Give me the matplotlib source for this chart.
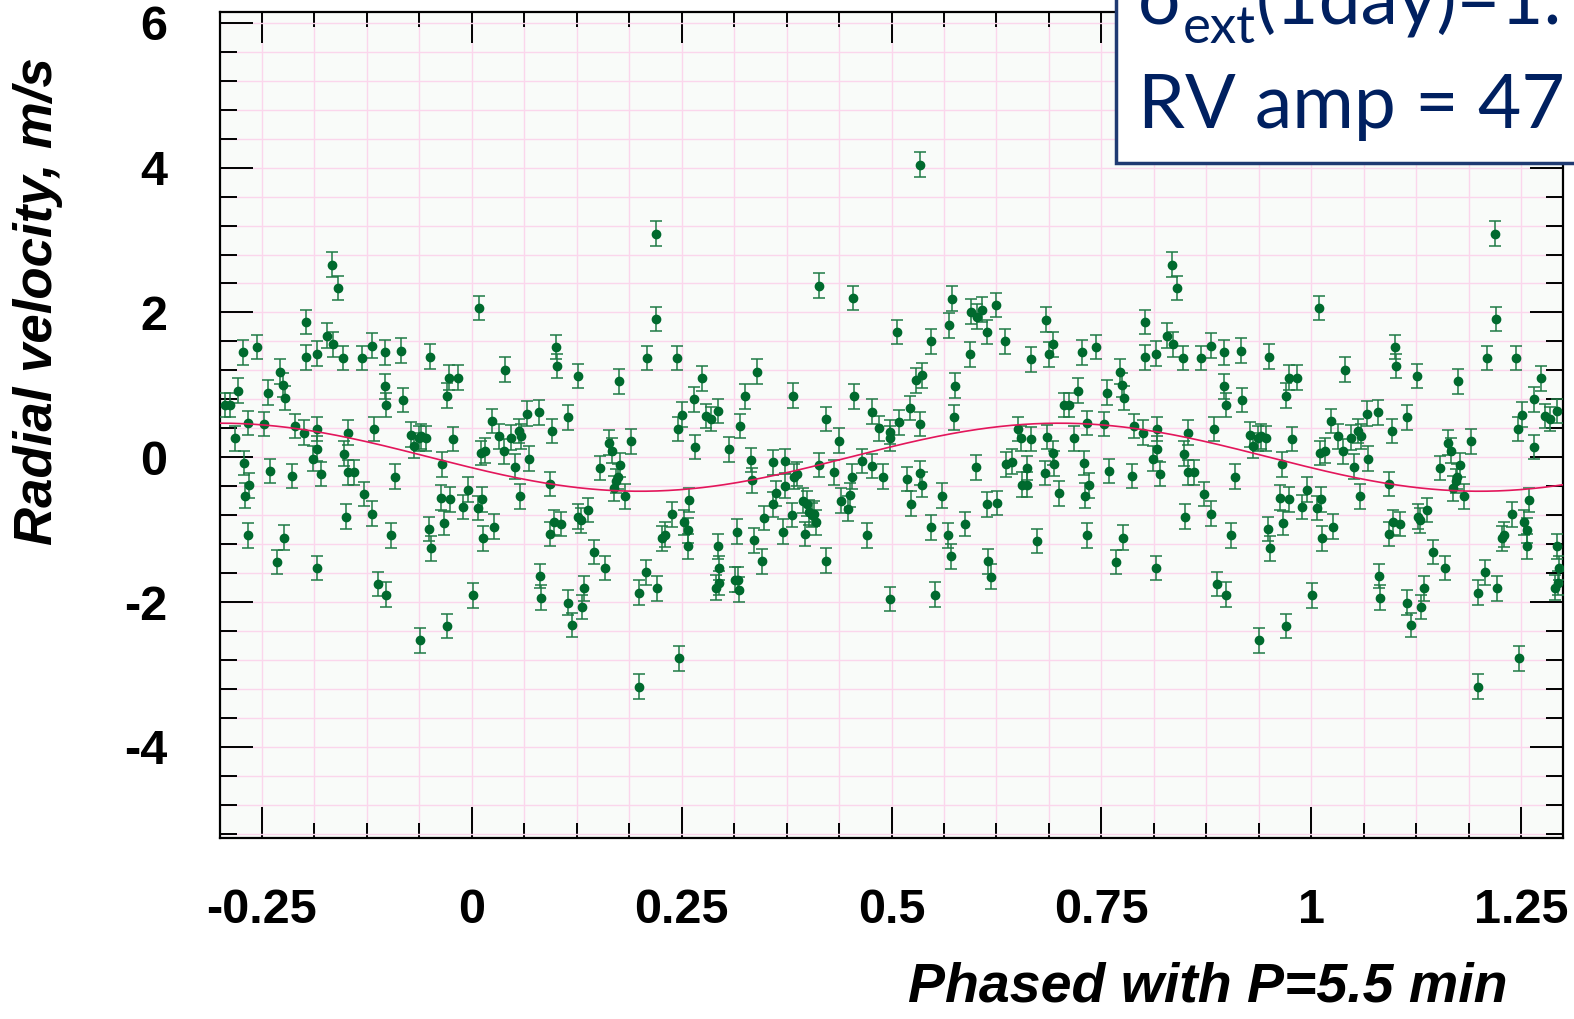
import numpy as np
import matplotlib
matplotlib.use("Agg")
from matplotlib import pyplot as plt
from matplotlib.ticker import MultipleLocator, FixedFormatter, FixedLocator
from matplotlib.patches import Rectangle

# phase (0..1) and radial velocity (m/s)
phase = [0.001, 0.009, 0.007, 0.012, 0.011, 0.016, 0.013, 0.024, 0.026, 0.032,
         0.038, 0.040, 0.047, 0.051, 0.056, 0.059, 0.058, 0.066, 0.068, 0.080,
         0.081, 0.082, 0.093, 0.093, 0.096, 0.098, 0.100, 0.101, 0.106, 0.114,
         0.114, 0.119, 0.126, 0.127, 0.130, 0.131, 0.134, 0.138, 0.145, 0.153,
         0.159, 0.163, 0.167, 0.169, 0.172, 0.174, 0.177, 0.175, 0.182, 0.190,
         0.199, 0.199, 0.207, 0.209, 0.219, 0.220, 0.221, 0.227, 0.230, 0.239,
         0.244, 0.246, 0.247, 0.251, 0.253, 0.257, 0.257, 0.259, 0.265, 0.266,
         0.274, 0.279, 0.285, 0.293, 0.293, 0.291, 0.294, 0.295, 0.306, 0.313,
         0.316, 0.317, 0.318, 0.320, 0.326, 0.333, 0.334, 0.336, 0.340, 0.346,
         0.348, 0.359, 0.359, 0.362, 0.371, 0.373, 0.373, 0.382, 0.383, 0.384,
         0.388, 0.395, 0.397, 0.399, 0.402, 0.405, 0.408, 0.410, 0.414, 0.414,
         0.422, 0.422, 0.431, 0.438, 0.440, 0.448, 0.450, 0.453, 0.454, 0.455,
         0.465, 0.471,
         0.477, 0.477, 0.485, 0.490, 0.498, 0.498, 0.498, 0.507, 0.509, 0.519,
         0.522, 0.523, 0.529, 0.536, 0.534, 0.534, 0.534, 0.536, 0.547, 0.547,
         0.552, 0.560, 0.567, 0.568, 0.571, 0.572, 0.575, 0.576, 0.588, 0.594,
         0.595, 0.601, 0.602, 0.608, 0.614, 0.614, 0.615, 0.618, 0.625, 0.626,
         0.635, 0.637, 0.643, 0.651, 0.654, 0.655, 0.662, 0.661, 0.666, 0.666,
         0.673, 0.683, 0.684, 0.685, 0.688, 0.693, 0.693, 0.694, 0.700, 0.706,
         0.712, 0.718, 0.722, 0.727, 0.729, 0.730, 0.733, 0.733, 0.735, 0.744,
         0.753, 0.757, 0.759, 0.768, 0.772, 0.775, 0.777, 0.776, 0.786, 0.789,
         0.800, 0.802, 0.802, 0.811, 0.815, 0.816, 0.816, 0.815, 0.820, 0.828,
         0.835, 0.834, 0.840, 0.847, 0.848, 0.850, 0.853, 0.853, 0.860, 0.869,
         0.872, 0.881, 0.881, 0.884, 0.888, 0.896, 0.896, 0.898, 0.898, 0.904,
         0.909, 0.916, 0.918, 0.927, 0.931, 0.937, 0.940, 0.946, 0.938, 0.950,
         0.949, 0.951, 0.963, 0.965, 0.967, 0.970, 0.970, 0.973, 0.983, 0.974,
         0.977, 0.989, 0.995]

rv = [-1.91, 2.06, -0.70, -0.58, 0.06, 0.09, -1.12, 0.50, -0.96, 0.29,
      0.08, 1.21, 0.27, -0.13, 0.36, 0.29, -0.54, 0.60, -0.02, 0.62,
      -1.64, -1.94, -0.37, -1.06, 0.36, -0.90, 1.52, 1.26, -0.92, 0.55,
      -2.01, -2.32, 1.12, -0.82, -0.87, -2.07, -1.81, -0.73, -1.31, -0.15,
      -1.53, 0.20, 0.09, -0.43, -0.33, -0.27, -0.11, 1.05, -0.54, 0.22,
      -1.87, -3.17, -1.59, 1.37, 3.09, 1.91, -1.81, -1.12, -1.07, -0.79,
      1.37, 0.39, -2.78, 0.59, -0.90, -1.01, -1.23, -0.59, 0.80, 0.14,
      1.09, 0.57, 0.53, 0.64, -1.23, -1.80, -1.74, -1.53, 0.11, -1.69,
      -1.03, -1.69, -1.83, 0.43, 0.84, -0.04, -0.32, -1.15, 1.18, -1.44,
      -0.84, -0.07, -0.65, -0.50, -1.03, -0.05, -0.40, -0.80, 0.85, -0.27,
      -0.23, -0.60, -1.06, -0.64, -0.76, -0.80, -0.78, -0.90, 2.37, -0.11,
      0.53, -1.43, -0.21, 0.23, -0.60, -0.71, -0.52, -0.27, 2.20, 0.84,
      -0.05, -1.08,
      0.63, -0.12, 0.40, -0.27, 0.35, 0.26, -1.96, 1.73, 0.48, -0.30,
      0.68, -0.64, 1.06, 1.13, 4.04, 0.46, -0.22, -0.38, 1.60, -0.97,
      -1.90, -0.53, -1.08, 1.82, -1.37, 2.19, 0.55, 0.99, -0.92, 1.42,
      2.01, -0.14, 1.94, 2.04, 1.73, -0.65, -1.44, -1.65, 2.10, -0.63,
      1.60, -0.10, -0.06, 0.39, 0.26, -0.38, -0.38, -0.15, 1.35, 0.25,
      -1.16, -0.22, 1.90, 0.28, 1.42, 1.56, 0.06, -0.09, -0.50, 0.72,
      0.72, 0.26, 0.92, 1.45, -0.08, -0.53, 0.47, -1.08, -0.39, 1.52,
      0.46, 0.89, -0.19, -1.45, 1.18, 1.00, 0.82, -1.11, -0.26, 0.43,
      0.34, 1.87, 1.38, -0.02, 1.43, 0.39, 0.12, -1.53, -0.23, 1.68,
      1.56, 2.66, 2.34, 1.37, 0.05, -0.82, 0.34, -0.21, -0.21, 1.37,
      -0.51, 1.54, -0.78, 0.39, -1.75, 1.45, 0.98, 0.72, -1.90, -1.08,
      -0.27, 1.47, 0.79, 0.31, 0.16, 0.26, 0.29, 0.26, -2.53, 1.39,
      -0.99, -1.26, -0.56, -0.10, -0.91, 0.85, -2.33, 1.10, 1.10, -0.58,
      0.25, -0.69, -0.45]

rv_err = 0.17          # typical error bar half-length, m/s
rv_amp = 0.47          # fitted RV amplitude, m/s
phase_max = 0.70       # phase of the fitted maximum

x_ticks = [-0.25, 0, 0.25, 0.5, 0.75, 1, 1.25]
x_ticklabels = ["-0.25", "0", "0.25", "0.5", "0.75", "1", "1.25"]
y_ticks = [-4, -2, 0, 2, 4, 6]
y_ticklabels = ["-4", "-2", "0", "2", "4", "6"]

W, H = 1574, 1019
plt.rcParams['font.family'] = ['Liberation Sans', 'DejaVu Sans']

fig = plt.figure(figsize=(W / 100, H / 100), dpi=100)
ax = fig.add_axes([220 / W, 1 - 838 / H, (1563 - 220) / W, (838 - 12) / H])
ax.set_facecolor('#f9fbf9')

ax.set_xlim(-0.3, 1.3)
ax.set_ylim(-5.26, 6.15)

# grid on every minor division
ax.xaxis.set_major_locator(FixedLocator(x_ticks))
ax.xaxis.set_major_formatter(FixedFormatter(x_ticklabels))
ax.xaxis.set_minor_locator(MultipleLocator(0.0625))
ax.yaxis.set_major_locator(FixedLocator(y_ticks))
ax.yaxis.set_major_formatter(FixedFormatter(y_ticklabels))
ax.yaxis.set_minor_locator(MultipleLocator(0.4))
ax.grid(which='both', color='#fbd6ec', lw=1.0)
ax.set_axisbelow(True)

ax.tick_params(which='both', direction='in', top=True, right=True, width=1.4, color='black')
ax.tick_params(axis='x', which='major', length=22, pad=36, labelsize=35)
ax.tick_params(axis='x', which='minor', length=11)
ax.tick_params(axis='y', which='major', length=24, pad=38, labelsize=35)
ax.tick_params(axis='y', which='minor', length=12)
for lab in ax.get_xticklabels() + ax.get_yticklabels():
    lab.set_fontweight('bold')
for sp in ax.spines.values():
    sp.set_linewidth(1.6)

# phased data, repeated one period either side
ph = np.array(phase)
v = np.array(rv)
for shift in (-1, 0, 1):
    m = (ph + shift >= -0.3) & (ph + shift <= 1.3)
    ax.errorbar(ph[m] + shift, v[m], yerr=rv_err, fmt='o', color='#006a2e',
                ms=6, ecolor='#1f7a45', elinewidth=1.1, capsize=4, capthick=1.1,
                zorder=3)

# fitted sine
xs = np.linspace(-0.3, 1.3, 600)
ax.plot(xs, rv_amp * np.cos(2 * np.pi * (xs - phase_max)), color='#e3165b', lw=1.2, zorder=4)

# axis titles
fig.text(38 / W, 1 - 57 / H, "Radial velocity, m/s", rotation=90, ha='center', va='top',
         fontsize=38, fontweight='bold', fontstyle='italic')
fig.text(1508 / W, 1 - 1001 / H, "Phased with P=5.5 min", ha='right', va='baseline',
         fontsize=40, fontweight='bold', fontstyle='italic')

# annotation box in the top right corner
navy = '#002060'
box = Rectangle((1116 / W, 1 - 163 / H), 0.5, 0.5, transform=fig.transFigure,
                facecolor='white', edgecolor='#1f3a72', lw=2.5, zorder=10, clip_on=False)
fig.add_artist(box)

tfont = ['Lato', 'DejaVu Sans']
renderer = fig.canvas.get_renderer()
t1 = fig.text(1138 / W, 1 - 24 / H, "σ", fontsize=54, family=tfont, color=navy,
              va='baseline', zorder=11)
bb = t1.get_window_extent(renderer)
t2 = fig.text(bb.x1 / W, 1 - 43 / H, "ext", fontsize=38, family=tfont, color=navy,
              va='baseline', zorder=11)
bb = t2.get_window_extent(renderer)
fig.text(bb.x1 / W, 1 - 24 / H, "(1day)=1.", fontsize=54, family=tfont, color=navy,
         va='baseline', zorder=11)
fig.text(1138 / W, 1 - 128 / H, "RV amp = 47", fontsize=54, family=tfont, color=navy,
         va='baseline', zorder=11)

fig.savefig("out.png", dpi=100)
